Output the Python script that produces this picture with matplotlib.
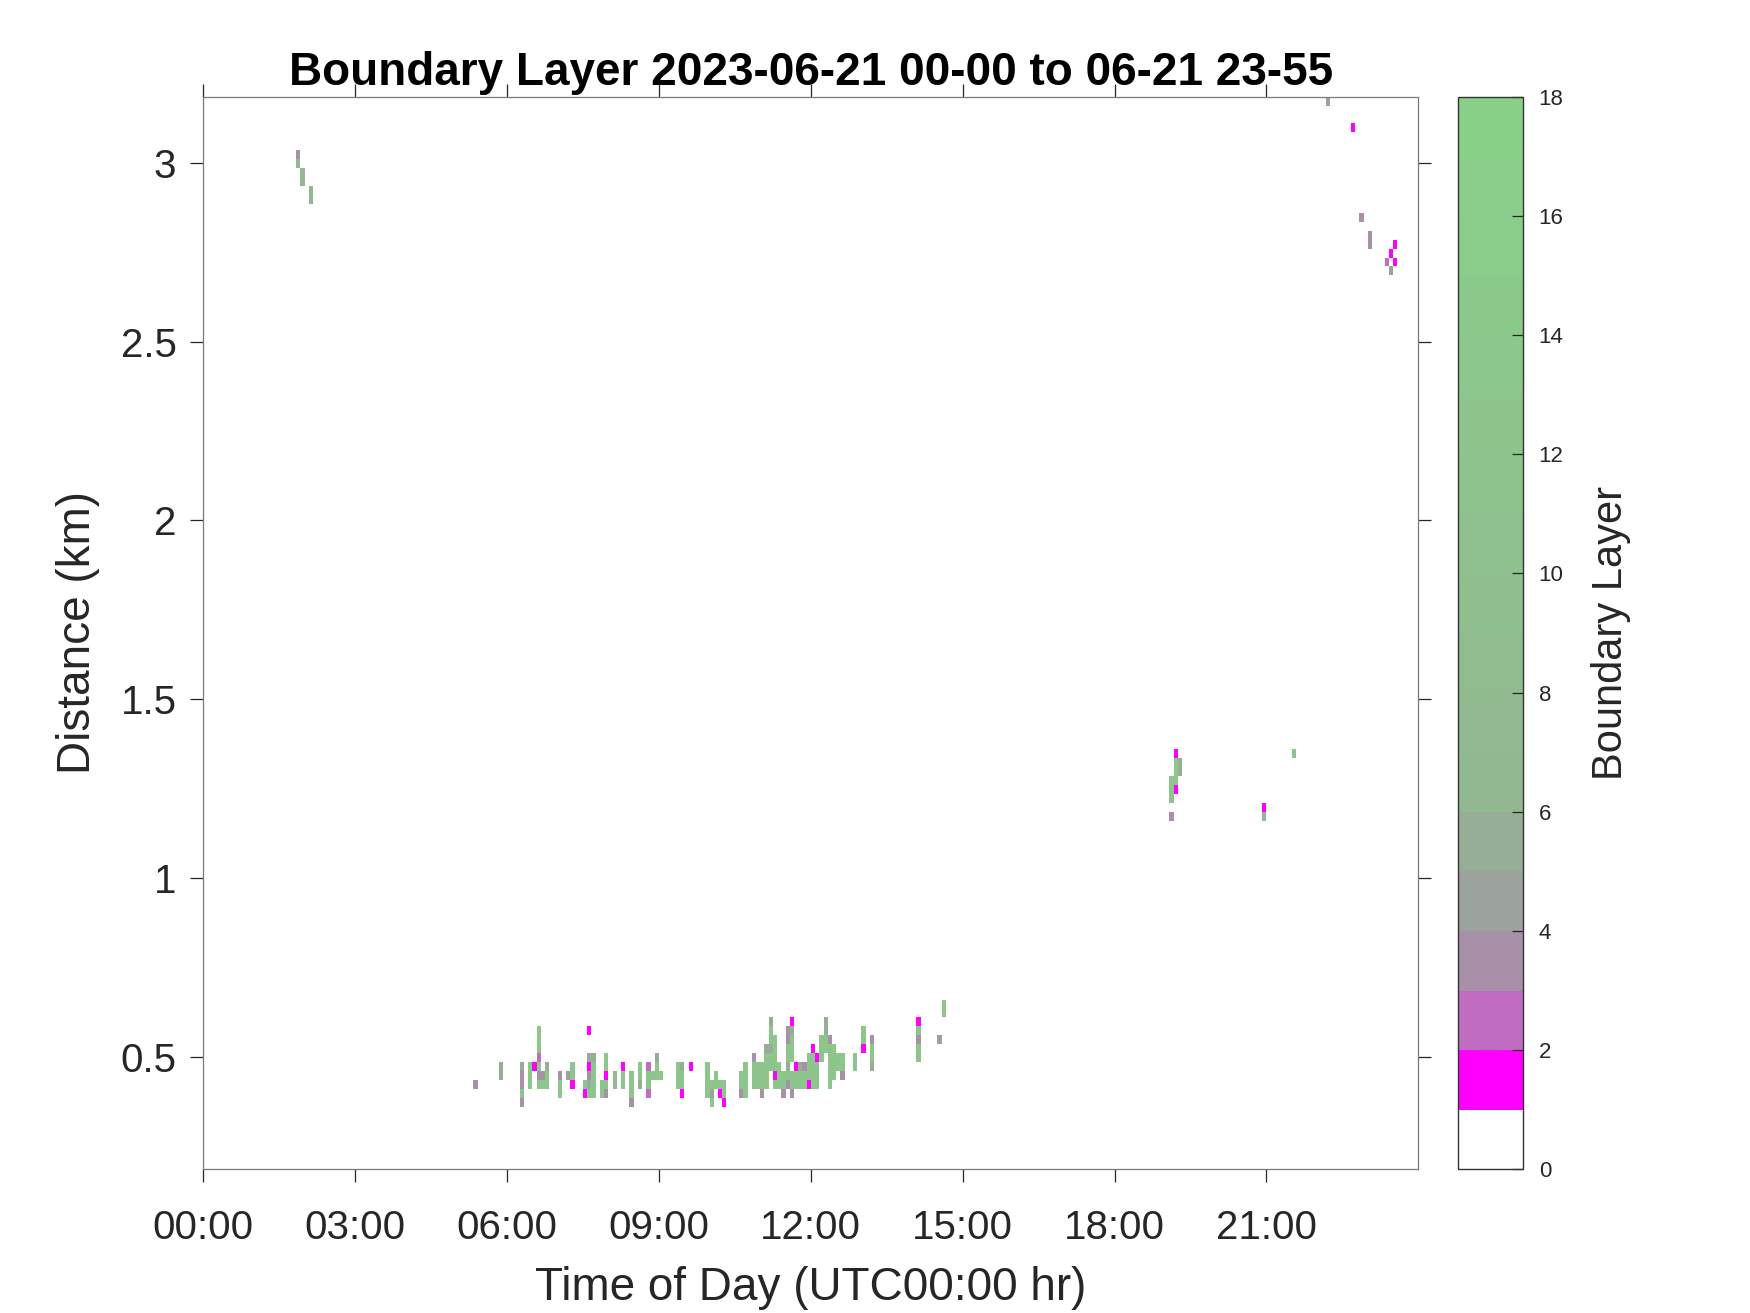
import numpy as np
import matplotlib
matplotlib.use("Agg")
import matplotlib.pyplot as plt
from matplotlib.colors import ListedColormap, BoundaryNorm

plt.rcParams['font.family'] = ['Liberation Sans', 'DejaVu Sans']

# ---------------- data ----------------
# each entry: column start time, lower edge (km) of lowest cell, values bottom->top (0 = empty)
col_times = ["01:50", "01:55", "02:05",
             "05:20", "05:50", "06:15", "06:25", "06:30", "06:35", "06:40", "06:45",
             "07:00", "07:10", "07:15", "07:30", "07:35", "07:40", "07:50", "07:55",
             "08:05", "08:15", "08:25", "08:35", "08:45", "08:50", "08:55", "09:00",
             "09:20", "09:25", "09:35", "09:55", "10:00", "10:05", "10:10", "10:15",
             "10:35", "10:40", "10:50", "10:55", "11:00", "11:05", "11:10", "11:15",
             "11:20", "11:25", "11:30", "11:35", "11:40", "11:45", "11:50", "11:55",
             "12:00", "12:05", "12:10", "12:15", "12:20", "12:25", "12:30", "12:35",
             "12:50", "13:00", "13:10", "14:05", "14:30", "14:35",
             "19:05", "19:10", "19:15", "20:55", "21:30",
             "22:10", "22:40", "22:50", "23:00", "23:20", "23:25", "23:30"]
col_bottoms_km = [2.985, 2.935, 2.885,
                  0.41, 0.435, 0.36, 0.41, 0.46, 0.41, 0.41, 0.41,
                  0.385, 0.435, 0.41, 0.385, 0.385, 0.385, 0.385, 0.385,
                  0.41, 0.41, 0.36, 0.41, 0.385, 0.435, 0.435, 0.435,
                  0.41, 0.385, 0.46, 0.385, 0.36, 0.41, 0.385, 0.36,
                  0.385, 0.385, 0.41, 0.41, 0.385, 0.41, 0.46, 0.41,
                  0.41, 0.385, 0.41, 0.385, 0.41, 0.41, 0.41, 0.41,
                  0.41, 0.41, 0.485, 0.51, 0.41, 0.435, 0.46, 0.435,
                  0.46, 0.51, 0.46, 0.485, 0.535, 0.61,
                  1.16, 1.235, 1.285, 1.16, 1.335,
                  3.16, 3.085, 2.835, 2.76, 2.71, 2.685, 2.71]
col_values = [[6, 3.5], [6, 6], [6, 6],
              [3.5], [5.5, 5.5], [3.5, 12, 3.5, 3.5, 5.5], [12, 12, 12], [1.5],
              [12, 3.5, 12, 2.5, 12, 12, 12], [12, 3.5], [12, 12, 5.5],
              [12, 12, 3.5], [4.5], [1.5, 12, 12], [1.5, 12],
              [12, 5.5, 3.5, 1.5, 5, 0, 0, 1.5], [12, 12, 12, 12, 5], [12, 12],
              [3.5, 12, 1.5, 12, 12],
              [6, 6], [12, 12, 1.5], [3, 12, 12, 12], [5, 12, 12], [2.5, 12, 12, 2.5],
              [12], [12, 12, 5], [12],
              [12, 12, 12], [1.5, 12, 12, 5], [1.5], [12, 12, 12, 12], [12, 4.5, 12],
              [12, 12], [1.5, 12], [1.5, 12, 12],
              [3, 12, 12], [12, 12, 12, 12], [12, 12, 12, 3], [12, 12, 12],
              [3, 12, 12, 12], [12, 12, 12, 12, 5], [12, 12, 5, 12, 12, 5],
              [12, 1.5, 12, 12, 12, 12],
              [12, 12, 12], [3, 12, 12], [3, 12, 5, 12, 12, 3.5, 3.5],
              [3, 12, 12, 0, 12, 12, 12, 5, 1.5], [12, 12, 1.5], [12, 12, 5],
              [12, 12, 3.5], [1.5, 12, 12, 12],
              [12, 12, 12, 12, 1.5], [12, 12, 12, 1.5], [12, 12, 12], [12, 12, 5, 5],
              [12, 12, 12, 12, 12, 3.5], [12, 12, 12, 12], [12, 12], [3, 12, 12],
              [12, 12], [1.5, 12, 12], [5, 12, 12, 3], [12, 12, 3.5, 12, 1.5],
              [4.5], [12, 12],
              [3.5, 0, 12, 12, 12], [1.5, 12, 12, 12, 1.5], [5, 5], [6, 1.5], [12],
              [4], [1.5], [3.5], [3.5, 3.5], [2.5], [4.5, 0, 1.5], [1.5, 0, 1.5]]

x_tick_hours = [0, 3, 6, 9, 12, 15, 18, 21]
x_tick_labels = ["00:00", "03:00", "06:00", "09:00", "12:00", "15:00", "18:00", "21:00"]
y_ticks = [0.5, 1, 1.5, 2, 2.5, 3]
y_tick_labels = ["0.5", "1", "1.5", "2", "2.5", "3"]
cbar_ticks = list(range(0, 19, 2))

# ---------------- grid ----------------
step_min = 5
n_cols = 24 * 60 // step_min
z0, dz, n_rows = 0.185, 0.025, 120
x_edges = np.arange(n_cols + 1) * step_min / 60.0
y_edges = z0 + np.arange(n_rows + 1) * dz
Z = np.full((n_rows, n_cols), np.nan)
for t, b, stack in zip(col_times, col_bottoms_km, col_values):
    hh, mm = map(int, t.split(":"))
    c = (hh * 60 + mm) // step_min
    r0 = int(round((b - z0) / dz))
    for k, v in enumerate(stack):
        if v:
            Z[r0 + k, c] = v
Zm = np.ma.masked_invalid(Z)

# ---------------- colormap ----------------
base = [(255, 255, 255), (255, 0, 255), (192, 108, 192), (168, 144, 168),
        (156, 162, 156), (150, 174, 150)]
g0, g1 = np.array([146, 184, 146]), np.array([136, 208, 136])
greens = [tuple(g0 + (g1 - g0) * i / 11.0) for i in range(12)]
cols = [tuple(np.array(c) / 255.0) for c in base + greens]
cmap = ListedColormap(cols)
norm = BoundaryNorm(np.arange(0, 19), cmap.N)

# ---------------- figure ----------------
fig = plt.figure(figsize=(17.5, 13.13), dpi=100)
ax = fig.add_axes([0.1162, 0.1094, 0.6943, 0.8170])
mesh = ax.pcolormesh(x_edges, y_edges, Zm, cmap=cmap, norm=norm,
                     shading='flat', antialiased=False, edgecolors='none')
ax.set_xlim(0, 24)
ax.set_ylim(z0, z0 + n_rows * dz)
ax.set_xticks(x_tick_hours)
ax.set_xticklabels(x_tick_labels)
ax.set_yticks(y_ticks)
ax.set_yticklabels(y_tick_labels)
tc = '#262626'
ax.tick_params(direction='out', length=9.4, width=0.9, top=True, right=True,
               labelsize=29, colors=tc)
ax.tick_params(axis='x', pad=19)
ax.tick_params(axis='y', pad=10)
for sp in ax.spines.values():
    sp.set_color('#7a7a7a')
    sp.set_linewidth(0.9)
ax.set_xlabel("Time of Day (UTC00:00 hr)", fontsize=33, color=tc, labelpad=14)
ax.set_ylabel("Distance (km)", fontsize=33, color=tc, labelpad=15)
fig.text(0.4633, 0.9349, "Boundary Layer 2023-06-21 00-00 to 06-21 23-55",
         ha='center', va='baseline', fontsize=33, fontweight='bold', color='black')

cax = fig.add_axes([0.8331, 0.1094, 0.0374, 0.8170])
cb = fig.colorbar(mesh, cax=cax, ticks=cbar_ticks)
cb.ax.minorticks_off()
cb.ax.tick_params(direction='in', length=8, width=0.9, labelsize=16, pad=11, colors=tc)
cb.outline.set_edgecolor('#333333')
cb.outline.set_linewidth(1.0)
cb.set_label("Boundary Layer", fontsize=30, color=tc, labelpad=20)

fig.savefig("out.png", dpi=100, facecolor='white')
